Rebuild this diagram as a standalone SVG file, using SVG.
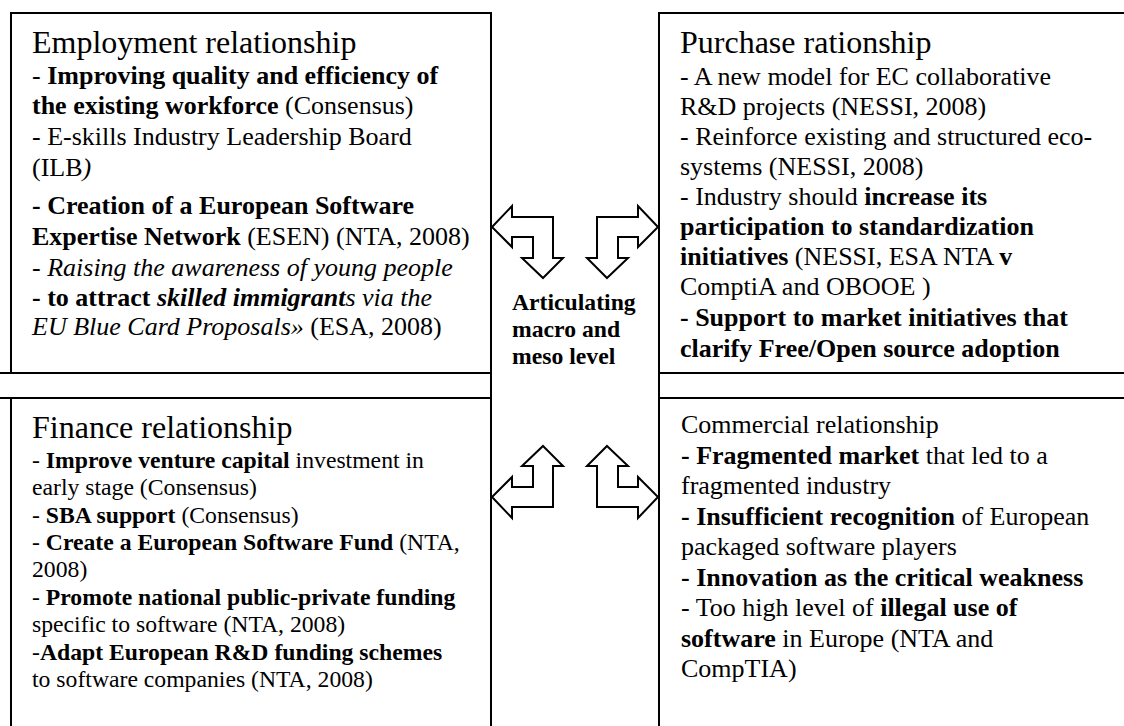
<svg xmlns="http://www.w3.org/2000/svg" width="1124" height="726" viewBox="0 0 1124 726">
<style>
text{font-family:"Liberation Serif","Times New Roman",serif;fill:#000}
.t{font-size:32px}
.m{font-size:26px}
.s{font-size:23.7px}
.b{font-weight:bold}
.i{font-style:italic}
.ln{stroke:#000;stroke-width:2;fill:none}
.ar{stroke:#000;stroke-width:2;fill:#fff;stroke-linejoin:miter}
</style>
<defs>
<clipPath id="clipTR"><rect x="660" y="14" width="464" height="348"/></clipPath>
</defs>
<rect width="1124" height="726" fill="#fff"/>

<g id="frame">
<path class="ln" d="M11,373 V13 H491 V726 M11,398 V726 M0,373 H491 M0,398 H491 M659,726 V13 H1124 M659,373 H1124 M659,398 H1124"/>
</g>

<g id="box-employment">
<text class="t" x="32" y="53">Employment relationship</text>
<text class="m" x="32" y="84">- <tspan class="b">Improving quality and efficiency of</tspan></text>
<text class="m" x="32" y="114"><tspan class="b">the existing workforce</tspan> (Consensus)</text>
<text class="m" x="32" y="145">- E-skills Industry Leadership Board</text>
<text class="m" x="32" y="176">(ILB<tspan class="i">)</tspan></text>
<text class="m b" x="32" y="214">- Creation of a European Software</text>
<text class="m" x="32" y="245"><tspan class="b">Expertise Network</tspan> (ESEN) (NTA, 2008)</text>
<text class="m i" x="32" y="276">- Raising the awareness of young people</text>
<text class="m" x="32" y="306"><tspan class="b">- to attract </tspan><tspan class="b i">skilled immigrant</tspan><tspan class="i">s via the</tspan></text>
<text class="m" x="32" y="335"><tspan class="i">EU Blue Card Proposals»</tspan> (ESA, 2008)</text>
</g>

<g id="box-purchase" clip-path="url(#clipTR)">
<text class="t" x="680" y="53">Purchase rationship</text>
<text class="m" x="680" y="85">- A new model for EC collaborative</text>
<text class="m" x="680" y="115">R&amp;D projects (NESSI, 2008)</text>
<text class="m" x="680" y="145">- Reinforce existing and structured eco-</text>
<text class="m" x="680" y="175">systems (NESSI, 2008)</text>
<text class="m" x="680" y="205">- Industry should <tspan class="b">increase its</tspan></text>
<text class="m b" x="680" y="235">participation to standardization</text>
<text class="m" x="680" y="265"><tspan class="b">initiatives</tspan> (NESSI, ESA NTA <tspan class="b">v</tspan></text>
<text class="m" x="680" y="295">ComptiA and OBOOE )</text>
<text class="m b" x="680" y="326">- Support to market initiatives that</text>
<text class="m b" x="680" y="357">clarify Free/Open source adoption</text>
</g>

<g id="box-center">
<text class="s b" x="512" y="310">Articulating</text>
<text class="s b" x="512" y="337">macro and</text>
<text class="s b" x="512" y="364">meso level</text>
</g>

<g id="box-finance">
<text class="t" x="32" y="438">Finance relationship</text>
<text class="s" x="32" y="468">- <tspan class="b">Improve venture capital</tspan> investment in</text>
<text class="s" x="32" y="495">early stage (Consensus)</text>
<text class="s" x="32" y="523">- <tspan class="b">SBA support</tspan> (Consensus)</text>
<text class="s" x="32" y="550">- <tspan class="b">Create a European Software Fund</tspan> (NTA,</text>
<text class="s" x="32" y="577">2008)</text>
<text class="s" x="32" y="605">- <tspan class="b">Promote national public-private funding</tspan></text>
<text class="s" x="32" y="632">specific to software (NTA, 2008)</text>
<text class="s" x="32" y="660">-<tspan class="b">Adapt European R&amp;D funding schemes</tspan></text>
<text class="s" x="32" y="687">to software companies (NTA, 2008)</text>
</g>

<g id="box-commercial">
<text class="m" x="681" y="433">Commercial relationship</text>
<text class="m" x="681" y="464"><tspan class="b">- Fragmented market</tspan> that led to a</text>
<text class="m" x="681" y="494">fragmented industry</text>
<text class="m" x="681" y="525"><tspan class="b">- Insufficient recognition</tspan> of European</text>
<text class="m" x="681" y="555">packaged software players</text>
<text class="m b" x="681" y="586">- Innovation as the critical weakness</text>
<text class="m" x="681" y="616">- Too high level of <tspan class="b">illegal use of</tspan></text>
<text class="m" x="681" y="647"><tspan class="b">software</tspan> in Europe (NTA and</text>
<text class="m" x="681" y="677">CompTIA)</text>
</g>

<g id="connectors">
<polygon class="ar" points="543,278 563,258 553,258 553,217 512,217 512,206 492,227 512,247 512,237 533,237 533,258 522,258"/>
<polygon class="ar" points="607,278 628,258 618,258 618,237 638,237 638,247 658,227 638,206 638,217 597,217 597,258 587,258"/>
<polygon class="ar" points="543,446 563,466 553,466 553,507 512,507 512,518 492,497 512,477 512,487 533,487 533,466 522,466"/>
<polygon class="ar" points="607,446 628,466 618,466 618,487 638,487 638,477 658,497 638,518 638,507 597,507 597,466 587,466"/>
</g>
</svg>
